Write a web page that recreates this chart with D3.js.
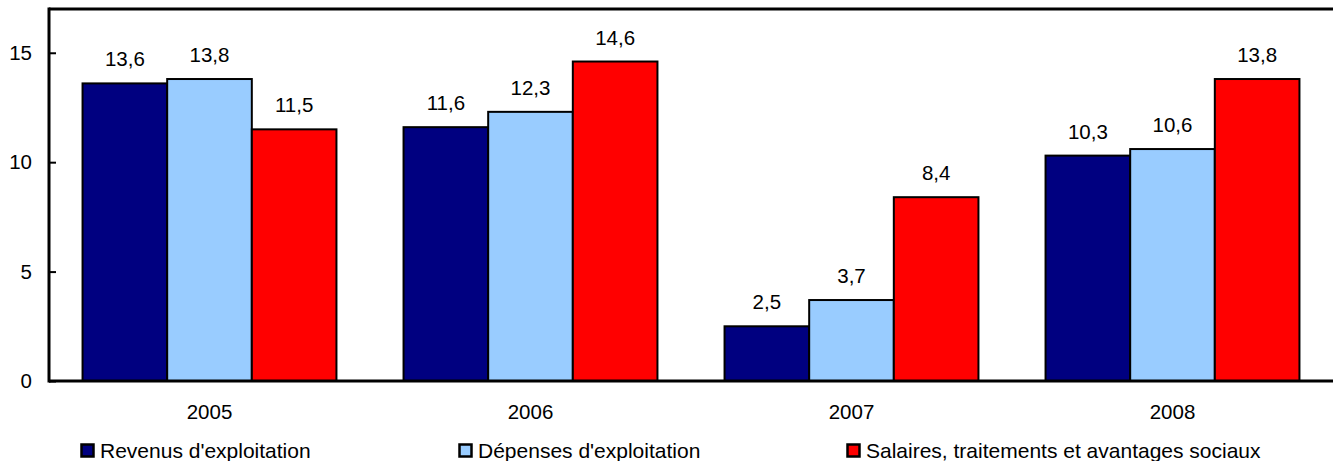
<!DOCTYPE html>
<html><head><meta charset="utf-8">
<script src="https://cdn.jsdelivr.net/npm/d3@7"></script>
<style>body{margin:0;background:#fff}svg{display:block}text{font-family:"Liberation Sans",Arial,sans-serif;fill:#000}</style>
</head><body>
<svg id="c" width="1333" height="461"></svg>
<script>
const categories = ["2005","2006","2007","2008"];
const seriesNames = ["Revenus d'exploitation","Dépenses d'exploitation","Salaires, traitements et avantages sociaux"];
const revenus = [13.6, 11.6, 2.5, 10.3];
const depenses = [13.8, 12.3, 3.7, 10.6];
const salaires = [11.5, 14.6, 8.4, 13.8];
const yTicks = [0, 5, 10, 15];
const colors = ["#000080", "#99CCFF", "#FF0000"];

const series = [revenus, depenses, salaires];
const svg = d3.select("#c");
const L = 49, R = 1333, T = 9, B = 381;
const y = d3.scaleLinear().domain([0, 17]).range([B, T]);
const x0 = d3.scaleBand().domain(categories).range([L, R]).paddingInner(0.209).paddingOuter(0.1045);
const x1 = d3.scaleBand().domain(d3.range(series.length)).range([0, x0.bandwidth()]);
const fmt = v => d3.format(".1f")(v).replace(".", ",");

const g = svg.append("g");
categories.forEach((c, ci) => {
  series.forEach((s, si) => {
    const v = s[ci];
    g.append("rect")
      .attr("x", x0(c) + x1(si))
      .attr("y", y(v))
      .attr("width", x1.bandwidth())
      .attr("height", y(0) - y(v))
      .attr("fill", colors[si])
      .attr("stroke", "#000").attr("stroke-width", 2);
    g.append("text")
      .attr("x", x0(c) + x1(si) + x1.bandwidth() / 2)
      .attr("y", y(v) - 17)
      .attr("text-anchor", "middle")
      .attr("font-size", 20.5)
      .text(fmt(v));
  });
});

// frame: top and bottom
svg.append("line").attr("x1", L).attr("x2", R).attr("y1", T).attr("y2", T).attr("stroke", "#000").attr("stroke-width", 3);
svg.append("line").attr("x1", L).attr("x2", R).attr("y1", B).attr("y2", B).attr("stroke", "#000").attr("stroke-width", 3);

const yAxis = d3.axisLeft(y).tickValues(yTicks).tickSize(-7).tickPadding(17).tickFormat(d => d);
const ya = svg.append("g").attr("transform", `translate(${L},0)`).call(yAxis);
ya.select(".domain").attr("stroke-width", 3).attr("d", `M0,${T - 1.5}V${B + 1.5}`);
ya.selectAll(".tick line").attr("stroke-width", 2);
ya.selectAll(".tick text").attr("font-size", 20.5).attr("font-family", '"Liberation Sans",Arial,sans-serif');

const xAxis = d3.axisBottom(x0).tickSize(0).tickPadding(23);
const xa = svg.append("g").attr("transform", `translate(0,${B})`).call(xAxis);
xa.select(".domain").remove();
xa.selectAll(".tick text").attr("font-size", 20.5).attr("font-family", '"Liberation Sans",Arial,sans-serif');

const legendX = [80, 458, 846];
seriesNames.forEach((n, i) => {
  svg.append("rect").attr("x", legendX[i] + 1.5).attr("y", 444.5).attr("width", 12).attr("height", 12)
    .attr("fill", colors[i]).attr("stroke", "#000").attr("stroke-width", 2.5);
  svg.append("text").attr("x", legendX[i] + 20).attr("y", 458).attr("font-size", 21).text(n);
});
</script>
</body></html>
